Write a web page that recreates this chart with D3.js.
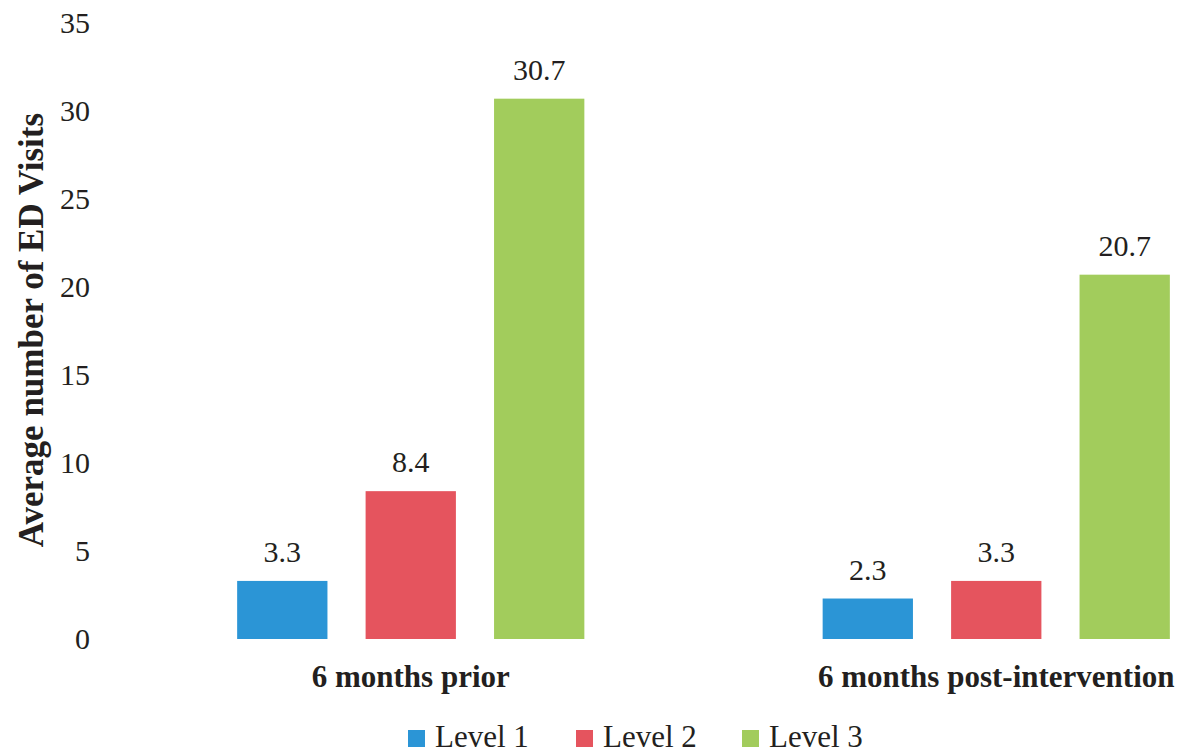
<!DOCTYPE html>
<html><head><meta charset="utf-8"><script src="https://cdn.jsdelivr.net/npm/d3@7"></script></head>
<body style="margin:0">
<svg id="chart" width="1185" height="754" font-family="'Liberation Serif', 'Times New Roman', Times, serif"></svg>
<script>
// ED visit averages by acuity level, before and after the intervention
const categories = ["6 months prior", "6 months post-intervention"];
const levels = ["Level 1", "Level 2", "Level 3"];
const level1 = [3.3, 2.3];
const level2 = [8.4, 3.3];
const level3 = [30.7, 20.7];
const yTicks = [0, 5, 10, 15, 20, 25, 30, 35];
const colors = ["#2b95d6", "#e5545e", "#a2cc5c"];

const seriesByLevel = [level1, level2, level3];
const rows = categories.map((c, i) => ({
  category: c,
  values: levels.map((l, j) => ({ level: l, value: seriesByLevel[j][i] }))
}));

const svg = d3.select("#chart");
const ink = "#231f20";
const serif = "'Liberation Serif', 'Times New Roman', Times, serif";

// Apply the serif face both as an attribute and as an inline style
function face(sel, size, weight) {
  sel.attr("font-family", serif)
    .style("font-family", serif, "important")
    .attr("font-size", size)
    .style("font-size", size + "px")
    .attr("fill", ink);
  if (weight) sel.attr("font-weight", weight).style("font-weight", weight);
  return sel;
}

const x0 = d3.scaleBand()
  .domain(categories)
  .range([118, 1289])
  .paddingInner(0.407)
  .paddingOuter(0.2035);

const x1 = d3.scaleBand()
  .domain(levels)
  .range([0, x0.bandwidth()])
  .paddingInner(0.297)
  .paddingOuter(0);

const y = d3.scaleLinear().domain([0, 35]).range([639, 23]);

const color = d3.scaleOrdinal().domain(levels).range(colors);

// Y tick labels
svg.append("g")
  .selectAll("text")
  .data(yTicks)
  .join("text")
  .attr("x", 90)
  .attr("y", d => y(d))
  .attr("dy", "0.34em")
  .attr("text-anchor", "end")
  .call(face, 30)
  .text(d => d);

// Y axis title
svg.append("text")
  .attr("transform", `translate(43, ${330}) rotate(-90)`)
  .attr("text-anchor", "middle")
  .call(face, 35, "bold")
  .text("Average number of ED Visits");

// Bars
const groups = svg.append("g")
  .selectAll("g")
  .data(rows)
  .join("g")
  .attr("transform", d => `translate(${x0(d.category)},0)`);

groups.selectAll("rect")
  .data(d => d.values)
  .join("rect")
  .attr("x", d => x1(d.level))
  .attr("width", x1.bandwidth())
  .attr("y", d => y(d.value))
  .attr("height", d => y(0) - y(d.value))
  .attr("fill", d => color(d.level));

// Value labels
groups.selectAll("text.value")
  .data(d => d.values)
  .join("text")
  .attr("class", "value")
  .attr("x", d => x1(d.level) + x1.bandwidth() / 2)
  .attr("y", d => y(d.value) - 19)
  .attr("text-anchor", "middle")
  .call(face, 30)
  .text(d => d.value.toFixed(1));

// Category labels
svg.append("g")
  .selectAll("text")
  .data(categories)
  .join("text")
  .attr("x", d => x0(d) + x0.bandwidth() / 2)
  .attr("y", 687)
  .attr("text-anchor", "middle")
  .call(face, 31, "bold")
  .text(d => d);

// Legend
const legendX = [408, 576, 742];
const legend = svg.append("g")
  .selectAll("g")
  .data(levels)
  .join("g")
  .attr("transform", (d, i) => `translate(${legendX[i]}, 730)`);

legend.append("rect")
  .attr("width", 17)
  .attr("height", 17)
  .attr("fill", d => color(d));

legend.append("text")
  .attr("x", 27)
  .attr("y", 17)
  .call(face, 31)
  .text(d => d);
</script>
</body></html>
